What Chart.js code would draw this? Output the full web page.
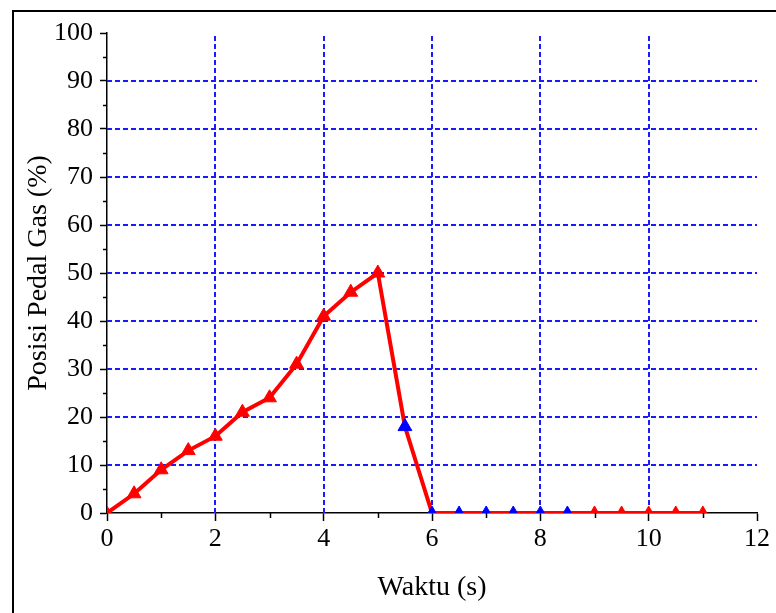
<!DOCTYPE html>
<html>
<head>
<meta charset="utf-8">
<script src="https://cdn.jsdelivr.net/npm/chart.js@4.4.1/dist/chart.umd.min.js"></script>
<style>
  html, body { margin: 0; padding: 0; background: #fff; }
  #wrap { position: relative; width: 776px; height: 613px; overflow: hidden; }
  #frame { position: absolute; left: 12px; top: 10px; width: 800px; height: 700px;
           border-left: 2px solid #000; border-top: 2px solid #000; }
  canvas { position: absolute; left: 0; top: 0; }
</style>
</head>
<body>
<div id="wrap">
  <div id="frame"></div>
  <canvas id="chart" width="776" height="613"></canvas>
</div>
<script>
// time (s) and pedal position (%)
const waktu = [0, 0.5, 1, 1.5, 2, 2.5, 3, 3.5, 4, 4.5, 5, 5.5, 6, 6.5, 7, 7.5, 8, 8.5, 9, 9.5, 10, 10.5, 11]
const posisi = [0, 4, 9, 13, 16, 21, 24, 31, 41, 46, 50, 18, 0, 0, 0, 0, 0, 0, 0, 0, 0, 0, 0]
const xTicks = [0, 2, 4, 6, 8, 10, 12]
const yTicks = [0, 10, 20, 30, 40, 50, 60, 70, 80, 90, 100]

const serif = "'Liberation Serif', 'Times New Roman', serif"

// blue dashed grid on inner major ticks, black minor ticks between majors
const gridAndMinor = {
  id: "gridAndMinor",
  beforeDatasetsDraw(chart) {
    const ctx = chart.ctx
    const x = chart.scales.x
    const y = chart.scales.y
    ctx.save()
    ctx.strokeStyle = "#1a1aff"
    ctx.lineWidth = 2
    ctx.setLineDash([5, 3])
    ctx.beginPath()
    xTicks.slice(1, -1).forEach((v) => {
      const px = Math.round(x.getPixelForValue(v))
      ctx.moveTo(px, y.bottom)
      ctx.lineTo(px, y.top)
    })
    yTicks.slice(1, -1).forEach((v) => {
      const py = Math.round(y.getPixelForValue(v))
      ctx.moveTo(x.left, py)
      ctx.lineTo(x.right, py)
    })
    ctx.stroke()
    ctx.restore()
  },
  afterDraw(chart) {
    const ctx = chart.ctx
    const x = chart.scales.x
    const y = chart.scales.y
    ctx.save()
    ctx.strokeStyle = "#000"
    ctx.lineWidth = 1.5
    ctx.setLineDash([])
    ctx.beginPath()
    for (let i = 0; i < xTicks.length - 1; i++) {
      const px = Math.round(x.getPixelForValue((xTicks[i] + xTicks[i + 1]) / 2)) + 0.5
      ctx.moveTo(px, y.bottom)
      ctx.lineTo(px, y.bottom + 5)
    }
    for (let i = 0; i < yTicks.length - 1; i++) {
      const py = Math.round(y.getPixelForValue((yTicks[i] + yTicks[i + 1]) / 2)) + 0.5
      ctx.moveTo(x.left, py)
      ctx.lineTo(x.left - 4, py)
    }
    ctx.stroke()
    ctx.restore()
  },
}

const isBlue = (i) => waktu[i] >= 5.5 && waktu[i] <= 8.5

const axisGrid = {
  drawOnChartArea: false,
  tickColor: "#000",
  tickWidth: 1.5,
  tickBorderDash: [],
}

new Chart(document.getElementById("chart"), {
  type: "line",
  data: {
    datasets: [
      {
        data: waktu.map((t, i) => ({ x: t, y: posisi[i] })),
        borderColor: "#ff0000",
        borderWidth: 4,
        tension: 0,
        pointStyle: "triangle",
        pointRadius: (c) => (posisi[c.dataIndex] === 0 ? 7 : 8),
        pointBackgroundColor: (c) => (isBlue(c.dataIndex) ? "#0000ff" : "#ff0000"),
        pointBorderColor: (c) => (isBlue(c.dataIndex) ? "#0000ff" : "#ff0000"),
        pointBorderWidth: 1,
      },
    ],
  },
  options: {
    responsive: false,
    animation: false,
    layout: { padding: { left: 0, top: 33, right: 19, bottom: 0 } },
    plugins: { legend: { display: false }, tooltip: { enabled: false } },
    scales: {
      x: {
        type: "linear",
        min: 0,
        max: 12,
        afterBuildTicks: (s) => { s.ticks = xTicks.map((v) => ({ value: v })) },
        afterFit: (s) => { s.height = 100 },
        border: { color: "#000", width: 1.5 },
        grid: { ...axisGrid, tickLength: 8 },
        ticks: { color: "#000", font: { family: serif, size: 26 }, padding: 3, maxRotation: 0 },
        title: {
          display: true,
          text: "Waktu (s)",
          color: "#000",
          font: { family: serif, size: 28 },
          padding: { top: 0, bottom: 9 },
        },
      },
      y: {
        type: "linear",
        min: 0,
        max: 100,
        afterBuildTicks: (s) => { s.ticks = yTicks.map((v) => ({ value: v })) },
        afterFit: (s) => { s.width = 107 },
        border: { color: "#000", width: 1.5 },
        grid: { ...axisGrid, tickLength: 7 },
        ticks: { color: "#000", font: { family: serif, size: 26 }, padding: 7 },
        title: {
          display: true,
          text: "Posisi Pedal Gas (%)",
          color: "#000",
          font: { family: serif, size: 28 },
          padding: { top: 22, bottom: 0 },
        },
      },
    },
  },
  plugins: [gridAndMinor],
})
</script>
</body>
</html>
